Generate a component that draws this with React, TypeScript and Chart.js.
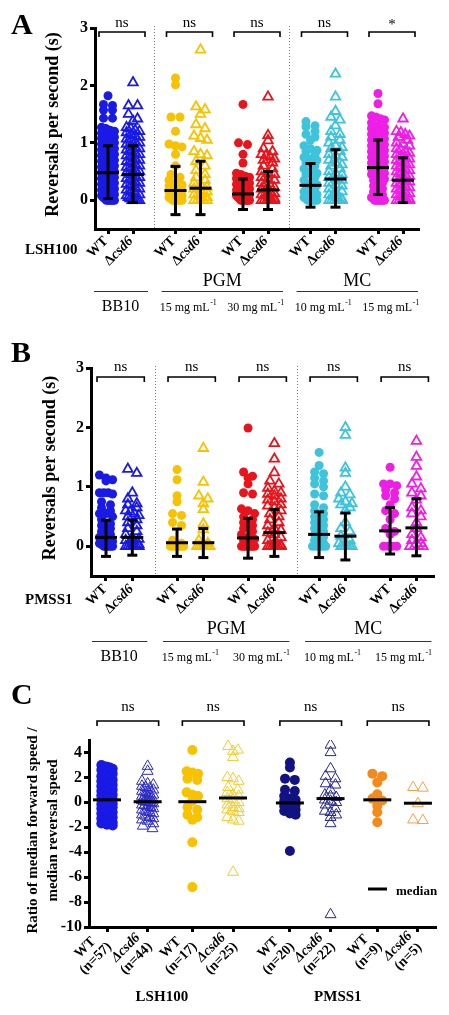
import React, { useEffect, useRef } from 'react';
import { Chart, registerables } from 'chart.js';
Chart.register(...registerables);

const FONT = '"Liberation Serif", "Times New Roman", Times, serif';

// ---------------- Shared categories for panels A and B ----------------
const AB_POSITIONS = [0, 1, 2.7, 3.7, 5.4, 6.4, 8.1, 9.1, 10.8, 11.8];
const AB_LABELS = ['WT', 'Δcsd6', 'WT', 'Δcsd6', 'WT', 'Δcsd6', 'WT', 'Δcsd6', 'WT', 'Δcsd6'];
const AB_SEPARATORS = [1.85, 7.25];
const AB_COLORS = ['#1a1ae6', '#f7c200', '#e8141c', '#3ec3dc', '#ee1ee6'];
const AB_MEDIA = [
  { name: '', from: 0, to: 1 },
  { name: 'PGM', from: 2, to: 5 },
  { name: 'MC', from: 6, to: 9 },
];
const AB_CONDITIONS = ['BB10', '15 mg mL', '30 mg mL', '10 mg mL', '15 mg mL'];
const AB_CONDITION_SUP = ['', '-1', '-1', '-1', '-1'];
const AB_Y_TITLE = 'Reversals per second (s)';
const AB_Y_TICKS = [0, 1, 2, 3];

// ---------------- Panel A (LSH100) ----------------
const A_SIG = ['ns', 'ns', 'ns', 'ns', '*'];
const A_BB10_WT = [1.82, 1.67, 1.65, 1.57, 1.57, 1.43, 1.43, 1.27, 1.25, 1.22, 1.2, 1.17, 1.15, 1.12, 1.1, 1.08, 1.05, 1.03, 1.0, 1.0, 0.98, 0.95, 0.93, 0.9, 0.9, 0.88, 0.85, 0.83, 0.8, 0.8, 0.78, 0.75, 0.73, 0.7, 0.7, 0.68, 0.65, 0.63, 0.6, 0.6, 0.58, 0.55, 0.53, 0.5, 0.5, 0.48, 0.45, 0.43, 0.4, 0.4, 0.38, 0.35, 0.33, 0.3, 0.3, 0.28, 0.25, 0.23, 0.2, 0.2, 0.18, 0.15, 0.13, 0.1, 0.1, 0.08, 0.05, 0.03, 0, 0, 0, 0, 0, 0];
const A_BB10_CSD6 = [2.05, 1.65, 1.65, 1.5, 1.42, 1.38, 1.27, 1.25, 1.22, 1.2, 1.18, 1.15, 1.12, 1.1, 1.07, 1.05, 1.02, 1.0, 0.98, 0.95, 0.93, 0.9, 0.88, 0.85, 0.83, 0.8, 0.78, 0.75, 0.73, 0.7, 0.68, 0.65, 0.63, 0.6, 0.58, 0.55, 0.53, 0.5, 0.48, 0.45, 0.43, 0.4, 0.38, 0.35, 0.33, 0.3, 0.28, 0.25, 0.23, 0.2, 0.18, 0.15, 0.13, 0.1, 0.08, 0.05, 0.03, 0, 0, 0, 0, 0];
const A_PGM15_WT = [2.13, 2.01, 1.45, 1.45, 1.2, 0.98, 0.95, 0.93, 0.8, 0.6, 0.45, 0.4, 0.35, 0.3, 0.27, 0.25, 0.2, 0.17, 0.15, 0.12, 0.1, 0.08, 0.05, 0.03, 0, 0, 0, 0, 0, 0];
const A_PGM15_CSD6 = [2.62, 1.63, 1.58, 1.5, 1.32, 1.25, 1.12, 1.08, 1.05, 0.85, 0.8, 0.78, 0.68, 0.6, 0.52, 0.45, 0.4, 0.35, 0.3, 0.27, 0.23, 0.2, 0.17, 0.15, 0.1, 0.08, 0.05, 0, 0, 0, 0, 0];
const A_PGM30_WT = [1.67, 1.0, 0.97, 0.8, 0.65, 0.47, 0.45, 0.42, 0.4, 0.38, 0.35, 0.33, 0.3, 0.28, 0.25, 0.23, 0.2, 0.18, 0.15, 0.13, 0.1, 0.08, 0.05, 0.03, 0, 0, 0, 0, 0, 0, 0];
const A_PGM30_CSD6 = [1.8, 1.13, 1.04, 0.9, 0.85, 0.8, 0.78, 0.75, 0.72, 0.7, 0.65, 0.6, 0.55, 0.5, 0.47, 0.45, 0.4, 0.37, 0.35, 0.3, 0.28, 0.25, 0.22, 0.2, 0.18, 0.15, 0.12, 0.1, 0.08, 0.05, 0.03, 0, 0, 0, 0, 0, 0];
const A_MC10_WT = [1.37, 1.3, 1.28, 1.2, 1.15, 1.1, 1.05, 0.95, 0.9, 0.87, 0.85, 0.8, 0.75, 0.72, 0.7, 0.65, 0.6, 0.55, 0.5, 0.47, 0.45, 0.4, 0.35, 0.3, 0.27, 0.25, 0.2, 0.15, 0.12, 0.1, 0.05, 0.03, 0, 0, 0, 0, 0, 0];
const A_MC10_CSD6 = [2.2, 1.8, 1.55, 1.45, 1.4, 1.3, 1.2, 1.15, 1.1, 1.05, 1.0, 0.95, 0.92, 0.9, 0.85, 0.8, 0.78, 0.75, 0.7, 0.65, 0.62, 0.6, 0.55, 0.5, 0.47, 0.45, 0.4, 0.37, 0.35, 0.3, 0.27, 0.25, 0.2, 0.17, 0.15, 0.1, 0.08, 0.05, 0.02, 0, 0, 0, 0, 0, 0];
const A_MC15_WT = [1.86, 1.68, 1.47, 1.45, 1.42, 1.4, 1.35, 1.3, 1.27, 1.25, 1.2, 1.17, 1.15, 1.1, 1.07, 1.05, 1.02, 1.0, 0.97, 0.95, 0.92, 0.9, 0.87, 0.85, 0.82, 0.8, 0.77, 0.75, 0.72, 0.7, 0.67, 0.65, 0.62, 0.6, 0.57, 0.55, 0.52, 0.5, 0.47, 0.45, 0.42, 0.4, 0.37, 0.35, 0.3, 0.25, 0.2, 0.15, 0.1, 0.05, 0.03, 0, 0, 0, 0, 0, 0, 0];
const A_MC15_CSD6 = [1.42, 1.2, 1.18, 1.15, 1.12, 1.1, 1.05, 1.0, 0.98, 0.95, 0.9, 0.88, 0.85, 0.82, 0.8, 0.77, 0.75, 0.72, 0.7, 0.67, 0.65, 0.62, 0.6, 0.57, 0.55, 0.52, 0.5, 0.47, 0.45, 0.42, 0.4, 0.37, 0.35, 0.32, 0.3, 0.27, 0.25, 0.22, 0.2, 0.17, 0.15, 0.12, 0.1, 0.07, 0.05, 0.02, 0, 0, 0, 0, 0, 0];
const A_VALUES = [A_BB10_WT, A_BB10_CSD6, A_PGM15_WT, A_PGM15_CSD6, A_PGM30_WT, A_PGM30_CSD6, A_MC10_WT, A_MC10_CSD6, A_MC15_WT, A_MC15_CSD6];
const A_MEDIANS = [0.48, 0.45, 0.17, 0.21, 0.11, 0.18, 0.26, 0.37, 0.57, 0.35];
const A_LOWS = [0.03, -0.04, -0.25, -0.25, -0.16, -0.16, -0.12, -0.12, 0.1, -0.04];
const A_HIGHS = [0.95, 0.95, 0.59, 0.68, 0.37, 0.5, 0.64, 0.88, 1.05, 0.74];

// ---------------- Panel B (PMSS1) ----------------
const B_SIG = ['ns', 'ns', 'ns', 'ns', 'ns'];
const B_BB10_WT = [1.2, 1.15, 1.12, 1.1, 0.9, 0.9, 0.9, 0.88, 0.75, 0.7, 0.65, 0.6, 0.55, 0.55, 0.5, 0.45, 0.38, 0.35, 0.3, 0.25, 0.2, 0.15, 0.12, 0.1, 0.08, 0.05, 0.03, 0, 0, 0, 0, 0];
const B_BB10_CSD6 = [1.3, 1.23, 0.9, 0.8, 0.72, 0.7, 0.65, 0.6, 0.58, 0.55, 0.52, 0.5, 0.45, 0.4, 0.35, 0.3, 0.25, 0.2, 0.15, 0.12, 0.1, 0.05, 0.03, 0, 0, 0, 0, 0, 0, 0];
const B_PGM15_WT = [1.29, 1.12, 0.85, 0.75, 0.55, 0.52, 0.4, 0.35, 0.1, 0.05, 0, 0, 0, 0, 0, 0];
const B_PGM15_CSD6 = [1.65, 1.08, 0.85, 0.8, 0.72, 0.62, 0.38, 0.28, 0.1, 0.05, 0, 0, 0, 0, 0, 0, 0];
const B_PGM30_WT = [1.99, 1.25, 1.18, 1.15, 1.05, 0.9, 0.88, 0.63, 0.6, 0.55, 0.5, 0.45, 0.4, 0.35, 0.3, 0.25, 0.2, 0.15, 0.12, 0.1, 0.05, 0, 0, 0, 0, 0, 0, 0];
const B_PGM30_CSD6 = [1.73, 1.47, 1.24, 1.1, 1.05, 0.98, 0.93, 0.9, 0.88, 0.85, 0.8, 0.78, 0.75, 0.7, 0.68, 0.65, 0.6, 0.55, 0.5, 0.45, 0.4, 0.35, 0.3, 0.27, 0.23, 0.2, 0.15, 0.1, 0.05, 0.02, 0, 0, 0, 0, 0, 0, 0];
const B_MC10_WT = [1.58, 1.36, 1.25, 1.22, 1.15, 1.1, 1.05, 1.0, 0.88, 0.85, 0.7, 0.65, 0.6, 0.55, 0.5, 0.45, 0.4, 0.35, 0.3, 0.25, 0.2, 0.15, 0.1, 0.05, 0, 0, 0, 0, 0];
const B_MC10_CSD6 = [2.0, 1.87, 1.32, 1.23, 1.0, 0.9, 0.87, 0.8, 0.75, 0.72, 0.7, 0.65, 0.6, 0.4, 0.3, 0.25, 0.17, 0.1, 0.05, 0, 0, 0, 0, 0, 0];
const B_MC15_WT = [1.33, 1.05, 1.05, 1.02, 0.95, 0.9, 0.85, 0.8, 0.7, 0.6, 0.55, 0.45, 0.3, 0.25, 0.2, 0, 0, 0, 0];
const B_MC15_CSD6 = [1.77, 1.5, 1.35, 1.17, 1.05, 0.97, 0.9, 0.85, 0.78, 0.65, 0.6, 0.55, 0.5, 0.4, 0.3, 0.2, 0.15, 0.1, 0.05, 0, 0, 0, 0];
const B_VALUES = [B_BB10_WT, B_BB10_CSD6, B_PGM15_WT, B_PGM15_CSD6, B_PGM30_WT, B_PGM30_CSD6, B_MC10_WT, B_MC10_CSD6, B_MC15_WT, B_MC15_CSD6];
const B_MEDIANS = [0.15, 0.15, 0.06, 0.06, 0.14, 0.23, 0.2, 0.17, 0.26, 0.31];
const B_LOWS = [-0.17, -0.15, -0.17, -0.19, -0.2, -0.17, -0.19, -0.23, -0.13, -0.16];
const B_HIGHS = [0.44, 0.44, 0.29, 0.3, 0.47, 0.62, 0.58, 0.56, 0.65, 0.8];

// ---------------- Panel C (speed ratio) ----------------
const C_POSITIONS = [0, 1, 2.1, 3.1, 4.5, 5.5, 6.65, 7.65];
const C_LABELS = ['WT', 'Δcsd6', 'WT', 'Δcsd6', 'WT', 'Δcsd6', 'WT', 'Δcsd6'];
const C_N = [57, 44, 17, 25, 20, 22, 9, 5];
const C_SIG = ['ns', 'ns', 'ns', 'ns'];
const C_STRAINS = ['LSH100', 'PMSS1'];
const C_STRAIN_CENTERS = [1.35, 5.68];
const C_Y_TICKS = [4, 2, 0, -2, -4, -6, -8, -10];
const C_Y_TITLE = ['Ratio of median forward speed /', 'median reversal speed'];
const C_COLORS = ['#1a1ae6', '#2a2ac4', '#f7c200', '#f0cc30', '#121282', '#25258f', '#f28a1c', '#f0a04a'];
const C_FILLED = [true, false, true, false, true, false, true, false];
const C_LSH_WT = [3.0, 2.9, 2.85, 2.8, 2.7, 2.6, 2.5, 2.3, 2.1, 2.0, 1.9, 1.8, 1.7, 1.6, 1.5, 1.4, 1.3, 1.2, 1.1, 1.0, 0.9, 0.8, 0.7, 0.6, 0.5, 0.45, 0.4, 0.35, 0.3, 0.2, 0.15, 0.1, 0.05, 0, -0.05, -0.1, -0.15, -0.2, -0.3, -0.4, -0.5, -0.6, -0.7, -0.8, -0.9, -1.0, -1.1, -1.2, -1.3, -1.4, -1.5, -1.6, -1.7, -1.8, -1.85, 0.25, 0.55];
const C_LSH_CSD6 = [2.9, 2.5, 1.7, 1.5, 1.4, 1.3, 1.2, 1.1, 1.0, 0.9, 0.8, 0.7, 0.6, 0.5, 0.4, 0.35, 0.3, 0.2, 0.15, 0.1, 0.05, 0.05, 0, -0.05, -0.1, -0.2, -0.3, -0.4, -0.5, -0.6, -0.7, -0.8, -0.9, -1.0, -1.1, -1.2, -1.3, -1.4, -1.5, -1.7, -1.9, -2.1, 0.25, -0.25];
const C_LSH_PGM_WT = [4.2, 2.5, 2.4, 2.3, 1.9, 1.8, 0.8, 0.6, 0.5, 0.1, -0.4, -0.6, -1.0, -1.2, -1.4, -3.2, -6.8];
const C_LSH_PGM_CSD6 = [4.5, 4.2, 4.1, 3.6, 2.0, 1.9, 1.7, 1.2, 1.0, 0.8, 0.6, 0.5, 0.3, 0.2, 0, -0.2, -0.4, -0.5, -0.6, -0.7, -0.8, -1.2, -1.4, -1.5, -5.6];
const C_PMSS_WT = [3.2, 2.8, 1.9, 1.8, 1.0, 0.9, 0.5, 0.3, 0.2, 0.1, 0, -0.1, -0.2, -0.3, -0.5, -0.6, -0.7, -0.9, -1.0, -3.9];
const C_PMSS_CSD6 = [4.6, 4.0, 2.7, 2.1, 1.9, 1.5, 1.4, 1.0, 0.6, 0.5, 0.4, 0.2, 0.1, 0, -0.2, -0.5, -0.7, -0.8, -1.0, -1.2, -1.7, -9.0];
const C_PMSS_PGM_WT = [2.3, 2.1, 1.6, 0.65, 0.3, 0.15, -0.3, -0.8, -1.6];
const C_PMSS_PGM_CSD6 = [1.2, 1.15, -0.1, -1.4, -1.45];
const C_VALUES = [C_LSH_WT, C_LSH_CSD6, C_LSH_PGM_WT, C_LSH_PGM_CSD6, C_PMSS_WT, C_PMSS_CSD6, C_PMSS_PGM_WT, C_PMSS_PGM_CSD6];
const C_MEDIANS = [0.2, 0.05, 0.05, 0.35, -0.05, 0.3, 0.2, -0.07];

// ---------------- helpers ----------------
type Seg = { t: string; it?: boolean };
function segFont(size: number, bold: boolean, it?: boolean) {
  return `${it ? 'italic ' : ''}${bold ? 'bold ' : ''}${size}px ${FONT}`;
}
function segsWidth(ctx: CanvasRenderingContext2D, segs: Seg[], size: number, bold: boolean) {
  let w = 0;
  for (const s of segs) { ctx.font = segFont(size, bold, s.it); w += ctx.measureText(s.t).width; }
  return w;
}
function drawSegs(ctx: CanvasRenderingContext2D, segs: Seg[], x: number, y: number, size: number, bold: boolean) {
  let cx = x;
  for (const s of segs) { ctx.font = segFont(size, bold, s.it); ctx.fillText(s.t, cx, y); cx += ctx.measureText(s.t).width; }
}
function drawRotated(ctx: CanvasRenderingContext2D, lines: Seg[][], ax: number, ay: number, size: number, lh: number) {
  ctx.save();
  ctx.translate(ax, ay);
  ctx.rotate(-Math.PI / 4);
  ctx.textAlign = 'left';
  ctx.textBaseline = 'middle';
  const ws = lines.map((l) => segsWidth(ctx, l, size, true));
  const maxW = Math.max(...ws);
  lines.forEach((l, i) => drawSegs(ctx, l, -maxW / 2 - ws[i] / 2, i * lh, size, true));
  ctx.restore();
}
function labelSegs(label: string, italicDelta: boolean): Seg[] {
  if (label.startsWith('Δ')) return [{ t: 'Δ', it: italicDelta }, { t: label.slice(1), it: true }];
  return [{ t: label }];
}
function line(ctx: CanvasRenderingContext2D, x1: number, y1: number, x2: number, y2: number) {
  ctx.beginPath(); ctx.moveTo(x1, y1); ctx.lineTo(x2, y2); ctx.stroke();
}
function swarm(values: number[], center: number, rowTol: number, step: number, maxHalf: number) {
  const sorted = values.slice().sort((a, b) => b - a);
  const pts: { x: number; y: number }[] = [];
  let i = 0;
  while (i < sorted.length) {
    let j = i + 1;
    while (j < sorted.length && sorted[i] - sorted[j] <= rowTol + 1e-9) j++;
    const k = j - i;
    const sp = k > 1 ? Math.min(step, (2 * maxHalf) / (k - 1)) : 0;
    for (let m = 0; m < k; m++) pts.push({ x: center + (m - (k - 1) / 2) * sp, y: sorted[i + m] });
    i = j;
  }
  return pts;
}

interface PanelSpec {
  top: number; height: number;
  padding: { left: number; right: number; top: number; bottom: number };
  xMin: number; xMax: number; yMin: number; yMax: number; yTicks: number[];
  positions: number[]; values: number[][]; colors: string[]; filled: boolean[];
  medians: number[]; lows: number[] | null; highs: number[] | null;
  rowTol: number; step: number; maxHalf: number;
  circleR: number; triR: number; triLine: number; medHalf: number; capHalf: number;
  separators: number[];
  drawText: (chart: any) => void;
}

function drawAB(chart: any, o: {
  letter: string; letterTop: number; titleX: number; titleDy: number; strain: string; strainY: number;
  bracketY: number; sigY: number; sig: string[]; labelDx: number; labelDy: number;
  headerY: number; lineY: number; condY: number;
}) {
  const ctx: CanvasRenderingContext2D = chart.ctx;
  const xs = chart.scales.x;
  const ca = chart.chartArea;
  const px = (i: number) => xs.getPixelForValue(AB_POSITIONS[i]);
  ctx.save();
  ctx.fillStyle = '#000';
  ctx.strokeStyle = '#000';
  ctx.font = `bold 30px ${FONT}`; ctx.textAlign = 'left'; ctx.textBaseline = 'top';
  ctx.fillText(o.letter, 11, o.letterTop);
  ctx.save();
  ctx.translate(o.titleX, (ca.top + ca.bottom) / 2 + o.titleDy);
  ctx.rotate(-Math.PI / 2);
  ctx.font = `bold 18px ${FONT}`; ctx.textAlign = 'center'; ctx.textBaseline = 'middle';
  ctx.fillText(AB_Y_TITLE, 0, 0);
  ctx.restore();
  for (let k = 0; k < 5; k++) {
    const x1 = px(2 * k) - 9, x2 = px(2 * k + 1) + 12;
    ctx.lineWidth = 1.6;
    ctx.beginPath(); ctx.moveTo(x1, o.bracketY + 5); ctx.lineTo(x1, o.bracketY); ctx.lineTo(x2, o.bracketY); ctx.lineTo(x2, o.bracketY + 5); ctx.stroke();
    ctx.font = `15px ${FONT}`; ctx.textAlign = 'center'; ctx.textBaseline = 'middle';
    ctx.fillText(o.sig[k], (x1 + x2) / 2, o.sig[k] === '*' ? o.sigY + 2 : o.sigY);
  }
  AB_LABELS.forEach((lab, i) => {
    drawRotated(ctx, [labelSegs(lab, false)], px(i) + o.labelDx, ca.bottom + o.labelDy, 14, 15);
  });
  ctx.font = `bold 15px ${FONT}`; ctx.textAlign = 'left'; ctx.textBaseline = 'middle';
  ctx.fillText(o.strain, 25, o.strainY);
  ctx.lineWidth = 1; ctx.strokeStyle = '#333';
  AB_MEDIA.forEach((m) => {
    const x1 = px(m.from) - 14, x2 = px(m.to) + 15;
    line(ctx, x1, o.lineY + 0.5, x2, o.lineY + 0.5);
    if (m.name) {
      ctx.font = `18px ${FONT}`; ctx.textAlign = 'center'; ctx.textBaseline = 'middle';
      ctx.fillText(m.name, (x1 + x2) / 2, o.headerY);
    }
  });
  AB_CONDITIONS.forEach((c, k) => {
    const cx = (px(2 * k) + px(2 * k + 1)) / 2;
    const sup = AB_CONDITION_SUP[k];
    const size = sup ? 12 : 16;
    ctx.textAlign = 'left'; ctx.textBaseline = 'alphabetic';
    ctx.font = `${size}px ${FONT}`;
    const w1 = ctx.measureText(c).width;
    ctx.font = `8px ${FONT}`;
    const w2 = sup ? ctx.measureText(sup).width : 0;
    const x0 = cx - (w1 + w2) / 2;
    ctx.font = `${size}px ${FONT}`;
    ctx.fillText(c, x0, o.condY);
    if (sup) { ctx.font = `8px ${FONT}`; ctx.fillText(sup, x0 + w1 + 0.5, o.condY - 6); }
  });
  ctx.restore();
}

function drawC(chart: any) {
  const ctx: CanvasRenderingContext2D = chart.ctx;
  const xs = chart.scales.x;
  const ca = chart.chartArea;
  const px = (i: number) => xs.getPixelForValue(C_POSITIONS[i]);
  ctx.save();
  ctx.fillStyle = '#000'; ctx.strokeStyle = '#000';
  ctx.font = `bold 30px ${FONT}`; ctx.textAlign = 'left'; ctx.textBaseline = 'top';
  ctx.fillText('C', 11, 11);
  ctx.save();
  ctx.translate(0, (ca.top + ca.bottom) / 2 - 3);
  ctx.rotate(-Math.PI / 2);
  ctx.font = `bold 15px ${FONT}`; ctx.textAlign = 'center'; ctx.textBaseline = 'middle';
  ctx.fillText(C_Y_TITLE[0], 0, 33);
  ctx.fillText(C_Y_TITLE[1], 0, 53);
  ctx.restore();
  const by = ca.top - 19;
  for (let k = 0; k < 4; k++) {
    const x1 = px(2 * k) - 10, x2 = px(2 * k + 1) + 11;
    ctx.lineWidth = 1.6;
    ctx.beginPath(); ctx.moveTo(x1, by + 5); ctx.lineTo(x1, by); ctx.lineTo(x2, by); ctx.lineTo(x2, by + 5); ctx.stroke();
    ctx.font = `15px ${FONT}`; ctx.textAlign = 'center'; ctx.textBaseline = 'middle';
    ctx.fillText(C_SIG[k], (x1 + x2) / 2, ca.top - 33);
  }
  C_LABELS.forEach((lab, i) => {
    drawRotated(ctx, [labelSegs(lab, true), [{ t: `(n=${C_N[i]})` }]], px(i) - 8, ca.bottom + 7, 14, 15);
  });
  ctx.font = `bold 15px ${FONT}`; ctx.textAlign = 'center'; ctx.textBaseline = 'middle';
  C_STRAINS.forEach((s, k) => ctx.fillText(s, xs.getPixelForValue(C_STRAIN_CENTERS[k]), 327));
  ctx.lineWidth = 3;
  line(ctx, ca.right - 67, ca.bottom - 38, ca.right - 48, ca.bottom - 38);
  ctx.font = `bold 13px ${FONT}`; ctx.textAlign = 'left'; ctx.textBaseline = 'middle';
  ctx.fillText('median', ca.right - 39, ca.bottom - 35);
  ctx.restore();
}

const PANEL_A: PanelSpec = {
  top: 0, height: 328,
  padding: { left: 50, right: 31, top: 28, bottom: 328 - 229 - 6 },
  xMin: -0.52, xMax: 12.4, yMin: -0.5, yMax: 3, yTicks: AB_Y_TICKS,
  positions: AB_POSITIONS, values: A_VALUES,
  colors: AB_COLORS.flatMap((c) => [c, c]), filled: AB_POSITIONS.map((_, i) => i % 2 === 0),
  medians: A_MEDIANS, lows: A_LOWS, highs: A_HIGHS,
  rowTol: 0.08, step: 0.36, maxHalf: 0.26,
  circleR: 4.5, triR: 5.5, triLine: 1.8, medHalf: 11, capHalf: 5,
  separators: AB_SEPARATORS,
  drawText: (chart) => drawAB(chart, {
    letter: 'A', letterTop: 11, titleX: 53, titleDy: -4, strain: 'LSH100', strainY: 250,
    bracketY: 32, sigY: 23, sig: A_SIG, labelDx: -2, labelDy: 10,
    headerY: 281, lineY: 291, condY: 311,
  }),
};

const PANEL_B: PanelSpec = {
  top: 328, height: 342,
  padding: { left: 46, right: 16, top: 40, bottom: 342 - 248 - 6 },
  xMin: -0.57, xMax: 12.43, yMin: -0.5, yMax: 3, yTicks: AB_Y_TICKS,
  positions: AB_POSITIONS, values: B_VALUES,
  colors: AB_COLORS.flatMap((c) => [c, c]), filled: AB_POSITIONS.map((_, i) => i % 2 === 0),
  medians: B_MEDIANS, lows: B_LOWS, highs: B_HIGHS,
  rowTol: 0.08, step: 0.34, maxHalf: 0.25,
  circleR: 4.5, triR: 5.5, triLine: 1.8, medHalf: 11, capHalf: 5,
  separators: AB_SEPARATORS,
  drawText: (chart) => drawAB(chart, {
    letter: 'B', letterTop: 11, titleX: 50, titleDy: -4, strain: 'PMSS1', strainY: 272,
    bracketY: 49, sigY: 39, sig: B_SIG, labelDx: -1, labelDy: 11,
    headerY: 301, lineY: 313, condY: 333,
  }),
};

const PANEL_C: PanelSpec = {
  top: 670, height: 345,
  padding: { left: 44, right: 14, top: 70, bottom: 345 - 257 - 6 },
  xMin: -0.443, xMax: 8.07, yMin: -10, yMax: 5, yTicks: C_Y_TICKS,
  positions: C_POSITIONS, values: C_VALUES, colors: C_COLORS, filled: C_FILLED,
  medians: C_MEDIANS, lows: null, highs: null,
  rowTol: 0.3, step: 0.24, maxHalf: 0.14,
  circleR: 5, triR: 6.3, triLine: 1, medHalf: 14, capHalf: 0,
  separators: [],
  drawText: drawC,
};

const PANELS = [PANEL_A, PANEL_B, PANEL_C];

function makeChart(canvas: HTMLCanvasElement, s: PanelSpec) {
  const datasets = s.values.map((vals, i) => {
    const filled = s.filled[i];
    const r = filled ? s.circleR : s.triR;
    return {
      data: swarm(vals, s.positions[i], s.rowTol, s.step, s.maxHalf),
      pointStyle: filled ? 'circle' : 'triangle',
      pointRadius: r,
      pointHoverRadius: r,
      pointBackgroundColor: filled ? s.colors[i] : 'rgba(0,0,0,0)',
      pointBorderColor: s.colors[i],
      pointBorderWidth: filled ? 0 : s.triLine,
      showLine: false,
    };
  });
  const grid = { display: true, drawOnChartArea: false, drawTicks: true, tickLength: 5, tickWidth: 3, tickColor: '#000', lineWidth: 3, color: '#000' };
  const border = { display: true, width: 3, color: '#000' };
  const plugin = {
    id: 'figureAnnotations',
    beforeDatasetsDraw(chart: any) {
      const ctx: CanvasRenderingContext2D = chart.ctx;
      const ca = chart.chartArea;
      ctx.save();
      ctx.strokeStyle = '#777'; ctx.lineWidth = 1; ctx.setLineDash([1, 2]);
      s.separators.forEach((v) => {
        const x = Math.round(chart.scales.x.getPixelForValue(v)) + 0.5;
        line(ctx, x, ca.top - 2, x, ca.bottom);
      });
      ctx.restore();
    },
    afterDatasetsDraw(chart: any) {
      const ctx: CanvasRenderingContext2D = chart.ctx;
      const xs = chart.scales.x, ys = chart.scales.y;
      ctx.save();
      ctx.strokeStyle = '#000'; ctx.lineWidth = 3; ctx.lineCap = 'butt';
      s.medians.forEach((m, i) => {
        const x = xs.getPixelForValue(s.positions[i]);
        const ym = ys.getPixelForValue(m);
        line(ctx, x - s.medHalf, ym, x + s.medHalf, ym);
        if (s.lows && s.highs) {
          const yl = ys.getPixelForValue(s.lows[i]);
          const yh = ys.getPixelForValue(s.highs[i]);
          line(ctx, x, yl, x, yh);
          line(ctx, x - s.capHalf, yl, x + s.capHalf, yl);
          line(ctx, x - s.capHalf, yh, x + s.capHalf, yh);
        }
      });
      ctx.restore();
    },
    afterDraw(chart: any) { s.drawText(chart); },
  };
  return new Chart(canvas, {
    type: 'scatter',
    data: { datasets: datasets as any },
    options: {
      responsive: false,
      animation: false,
      devicePixelRatio: 1,
      events: [],
      layout: { padding: s.padding },
      plugins: { legend: { display: false }, tooltip: { enabled: false } },
      scales: {
        x: {
          type: 'linear', min: s.xMin, max: s.xMax,
          afterBuildTicks: (ax: any) => { ax.ticks = s.positions.map((v) => ({ value: v })); },
          afterFit: (ax: any) => { ax.height = 6; },
          ticks: { display: false },
          grid, border,
        },
        y: {
          type: 'linear', min: s.yMin, max: s.yMax,
          afterBuildTicks: (ax: any) => { ax.ticks = s.yTicks.map((v) => ({ value: v })); },
          afterFit: (ax: any) => { ax.width = 45; },
          ticks: { color: '#000', padding: 2, font: { family: FONT, size: 16, weight: 'bold' }, callback: (v: any) => String(v) },
          grid, border,
        },
      } as any,
    },
    plugins: [plugin],
  });
}

function Panel({ spec }: { spec: PanelSpec }) {
  const ref = useRef<HTMLCanvasElement>(null);
  useEffect(() => {
    const chart = makeChart(ref.current!, spec);
    return () => chart.destroy();
  }, [spec]);
  return (
    <canvas
      ref={ref}
      width={449}
      height={spec.height}
      style={{ position: 'absolute', left: 0, top: spec.top, width: 449, height: spec.height, display: 'block' }}
    />
  );
}

export default function App() {
  return (
    <div style={{ position: 'absolute', left: 0, top: 0, width: 449, height: 1015, background: '#fff', overflow: 'hidden' }}>
      {PANELS.map((p, i) => <Panel key={i} spec={p} />)}
    </div>
  );
}
